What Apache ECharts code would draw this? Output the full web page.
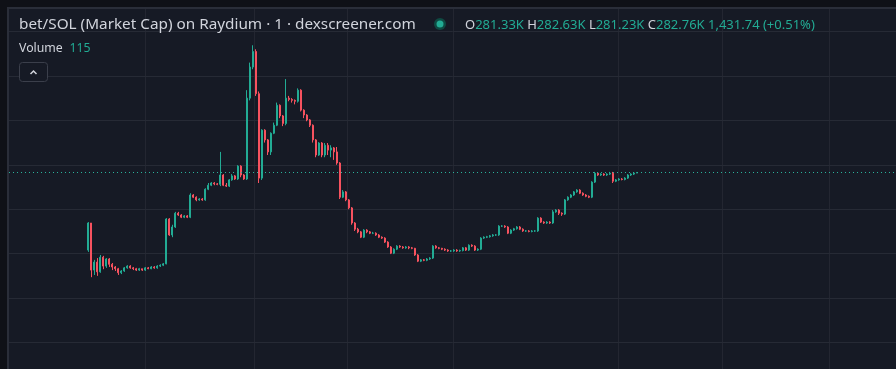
<!DOCTYPE html>
<html><head><meta charset="utf-8">
<script src="https://cdn.jsdelivr.net/npm/echarts@6/dist/echarts.min.js"></script>
<style>html,body{margin:0;padding:0;background:#161a25}#c{width:896px;height:369px}</style>
</head><body><div id="c"></div>
<script>
// Market cap values in K (1-minute candles)
const open = [108,169,63,81,59,92,72,88,76,70,66,57,61,68,72,68,66,63,66,63,68,66,70,68,72,74,77,178,142,160,191,187,182,185,182,232,227,221,223,221,245,254,259,257,256,277,254,252,266,275,268,297,277,268,450,520,555,460,270,378,356,329,371,389,434,410,393,450,447,445,443,468,423,412,401,389,356,322,349,322,344,333,338,329,304,227,239,221,203,169,155,149,137,153,149,146,146,142,137,135,126,115,101,110,117,115,113,115,113,112,97,83,86,85,88,90,117,113,112,110,108,106,106,108,106,107,113,108,119,117,108,110,135,137,138,140,142,142,162,162,160,146,153,156,160,155,151,151,150,151,151,180,171,169,171,169,194,198,191,189,221,227,232,239,243,236,232,229,227,261,281,277,279,277,279,281,263,266,268,267,270,277,279,281.33];
const close = [169,63,81,59,92,72,88,76,70,66,57,61,68,72,68,66,63,66,63,68,66,70,68,72,74,77,178,142,160,191,187,182,185,182,232,227,221,223,221,245,254,259,257,256,277,254,252,266,275,268,297,277,268,450,520,555,460,270,378,356,329,371,389,434,410,393,450,447,445,443,468,423,412,401,389,356,322,349,322,344,333,338,329,304,227,239,221,203,169,155,149,137,153,149,146,146,142,137,135,126,115,101,110,117,115,113,115,113,112,97,83,86,85,88,90,117,113,112,110,108,106,106,108,106,107,113,108,119,117,108,110,135,137,138,140,142,142,162,162,160,146,153,156,160,155,151,151,150,151,151,180,171,169,171,169,194,198,191,189,221,227,232,239,243,236,232,229,227,261,281,277,279,277,279,281,263,266,268,267,270,277,279,281.33,282.76];
const low = [104,47,52,50,57,65,68,70,63,61,52,54,59,66,66,63,61,61,61,61,65,65,66,66,70,72,76,140,137,158,185,180,180,180,180,225,218,219,219,219,243,252,254,254,252,252,250,250,264,266,266,272,266,266,445,515,455,259,266,350,322,322,369,387,405,387,389,443,440,436,440,420,405,398,385,350,317,320,317,317,322,317,311,300,223,225,218,200,165,151,146,135,135,146,144,144,140,135,133,124,113,99,99,108,113,111,111,110,110,95,81,81,83,83,86,88,111,110,108,106,104,104,104,104,104,105,106,106,115,106,106,108,133,135,136,138,140,140,160,158,144,144,151,154,153,149,149,148,148,149,149,169,167,167,167,167,192,187,185,187,219,225,230,237,234,230,227,225,225,259,275,275,275,275,277,259,261,264,265,265,268,275,277,281.23];
const high = [171,169,86,90,97,95,90,90,79,72,68,63,70,74,74,70,68,68,66,70,70,72,72,74,76,79,180,180,165,194,194,189,187,187,236,234,229,225,225,247,259,261,261,259,329,279,259,268,279,277,299,299,279,468,530,569,560,465,380,380,358,373,395,440,436,412,493,455,450,447,472,470,425,414,403,391,358,351,351,349,349,344,340,340,306,243,241,223,205,171,158,151,155,155,151,149,148,144,139,137,128,117,112,119,119,117,117,117,115,113,99,88,88,90,92,119,119,115,113,112,110,108,110,110,109,115,115,121,121,119,112,137,139,140,142,144,144,164,164,164,162,155,158,162,162,157,153,153,153,153,182,182,173,173,173,198,200,200,193,223,229,234,241,245,245,238,234,231,263,284,283,281,281,281,284,284,268,270,270,272,279,281,283,282.76];
const lastPrice = 282.76;
const padBefore = 26, padAfter = 86;
const yTicks = [-100, 0, 100, 200, 300, 400, 500, 600];
const vGridX = [145, 254, 347, 453, 618, 722, 829];

const n = padBefore + open.length + padAfter;
const categories = [];
for (let k = 0; k < n; k++) {
  const t = 9 * 60 + 40 + k; // minutes
  categories.push(String(Math.floor(t / 60) % 24).padStart(2, '0') + ':' + String(t % 60).padStart(2, '0'));
}
const series = [];
for (let k = 0; k < padBefore; k++) series.push('-');
for (let i = 0; i < open.length; i++) series.push([open[i], close[i], low[i], high[i]]);
for (let k = 0; k < padAfter; k++) series.push('-');

const UP = '#22ab94', DOWN = '#f7525f', TXT = '#d1d4dc';
const chart = echarts.init(document.getElementById('c'));
const graphics = [
  {type:'rect', shape:{x:0,y:0,width:896,height:7}, style:{fill:'#0f1117'}, z:1},
  {type:'rect', shape:{x:0,y:0,width:7,height:369}, style:{fill:'#0f1117'}, z:1},
  {type:'rect', shape:{x:7,y:7,width:889,height:2}, style:{fill:'#2a2e39'}, z:1},
  {type:'rect', shape:{x:7,y:7,width:2,height:362}, style:{fill:'#2a2e39'}, z:1}
];
vGridX.forEach(x => graphics.push({type:'line', shape:{x1:x+0.5,y1:9,x2:x+0.5,y2:369}, style:{stroke:'#232631',lineWidth:1}, z:0, silent:true}));
graphics.push(
  {type:'text', x:19, y:25, z:100, style:{text:'bet/SOL (Market Cap) on Raydium · 1 · dexscreener.com', fill:TXT, font:'15.3px "Noto Sans"', verticalAlign:'middle'}},
  {type:'circle', shape:{cx:440, cy:24, r:6}, style:{fill:'#0e4a42'}, z:100},
  {type:'circle', shape:{cx:440, cy:24, r:3.5}, style:{fill:'#22ab94'}, z:101},
  {type:'text', x:465, y:25, z:100, style:{
    text:'{l|O}{v|281.33K} {l|H}{v|282.63K} {l|L}{v|281.23K} {l|C}{v|282.76K} {v|1,431.74 (+0.51%)}',
    verticalAlign:'middle',
    rich:{l:{fill:TXT, font:'13px "Noto Sans"'}, v:{fill:UP, font:'13px "Noto Sans"'}}}},
  {type:'text', x:19, y:48, z:100, style:{
    text:'{l|Volume}  {v|115}', verticalAlign:'middle',
    rich:{l:{fill:TXT, font:'12.3px "Noto Sans"'}, v:{fill:UP, font:'12.3px "Noto Sans"'}}}},
  {type:'rect', shape:{x:19.5,y:62.5,width:28,height:19,r:3}, style:{fill:'#161a25', stroke:'#3b3f4b', lineWidth:1}, z:100},
  {type:'polyline', shape:{points:[[30.5,74],[33.5,71],[36.5,74]]}, style:{stroke:TXT, lineWidth:1.5, fill:null}, z:101}
);

chart.setOption({
  backgroundColor:'#161a25',
  animation:false,
  grid:{left:9, right:0, top:31.5, bottom:26.5},
  xAxis:{type:'category', data:categories, boundaryGap:true, axisLine:{show:false}, axisTick:{show:false}, axisLabel:{show:false}, splitLine:{show:false}},
  yAxis:{type:'value', min:yTicks[0], max:yTicks[yTicks.length-1], interval:100, axisLine:{show:false}, axisTick:{show:false}, axisLabel:{show:false},
    splitLine:{show:true, lineStyle:{color:'#262a35', width:1}}},
  series:[{
    type:'candlestick', data:series, barWidth:1.5, clip:false,
    itemStyle:{color:UP, color0:DOWN, borderColor:UP, borderColor0:DOWN, borderWidth:1},
    markLine:{symbol:'none', silent:true, label:{show:false},
      lineStyle:{color:'#2bb39c', type:[1,3], width:1.2}, data:[{yAxis:lastPrice}]}
  }],
  graphic:graphics
});
</script></body></html>
